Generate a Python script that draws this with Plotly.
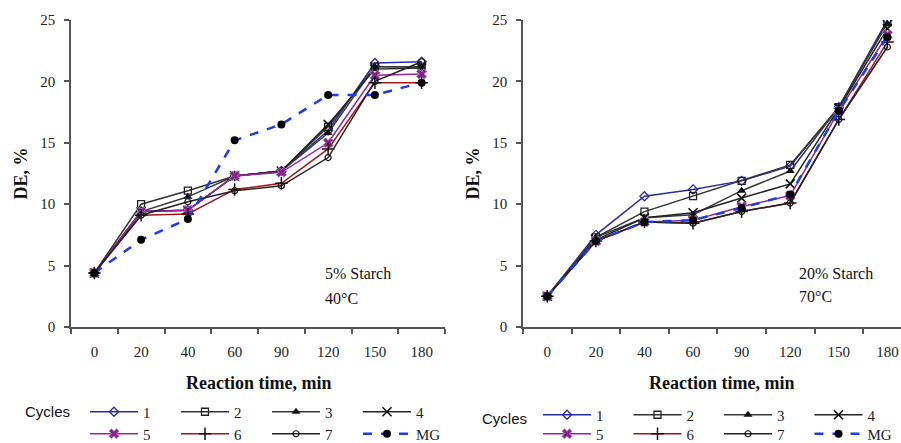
import plotly.graph_objects as go

times = ["0", "20", "40", "60", "90", "120", "150", "180"]
series_names = ["1", "2", "3", "4", "5", "6", "7", "MG"]

# 5% starch, 40 C
left_values = {
    "1": [4.4, 9.4, 9.5, 12.3, 12.7, 16.0, 21.5, 21.6],
    "2": [4.4, 10.0, 11.1, 12.3, 12.7, 16.3, 21.2, 21.2],
    "3": [4.4, 9.4, 10.6, 12.3, 12.7, 15.8, 21.2, 21.2],
    "4": [4.4, 9.4, 9.5, 12.3, 12.7, 16.5, 21.0, 21.1],
    "5": [4.4, 9.4, 9.5, 12.3, 12.6, 15.0, 20.5, 20.6],
    "6": [4.4, 9.1, 9.2, 11.2, 11.7, 14.5, 19.9, 19.9],
    "7": [4.4, 9.1, 10.2, 11.1, 11.5, 13.8, 20.0, 21.6],
    "MG": [4.4, 7.1, 8.8, 15.2, 16.5, 18.9, 18.9, 19.9],
}
# 20% starch, 70 C
right_values = {
    "1": [2.5, 7.5, 10.65, 11.2, 11.9, 13.1, 17.9, 25.0],
    "2": [2.5, 7.3, 9.4, 10.65, 11.9, 13.2, 17.9, 24.8],
    "3": [2.5, 7.3, 8.9, 9.15, 11.1, 12.7, 17.9, 24.7],
    "4": [2.5, 7.1, 8.9, 9.3, 10.5, 11.65, 17.8, 24.3],
    "5": [2.5, 7.0, 8.55, 8.7, 9.8, 10.7, 17.6, 23.8],
    "6": [2.5, 7.0, 8.55, 8.45, 9.4, 10.1, 16.9, 23.2],
    "7": [2.5, 7.0, 8.55, 8.45, 9.4, 10.1, 16.9, 22.8],
    "MG": [2.5, 7.0, 8.55, 8.7, 9.7, 10.8, 17.6, 23.6],
}

styles = {
    "1": dict(line=dict(color="#2b2ba8", width=1.5),
              marker=dict(symbol="diamond-open", size=7, color="#2b2ba8", line=dict(width=1.3))),
    "2": dict(line=dict(color="#333333", width=1.5),
              marker=dict(symbol="square-open", size=7, color="#222222", line=dict(width=1.3))),
    "3": dict(line=dict(color="#3a3a3a", width=1.5),
              marker=dict(symbol="triangle-up", size=8, color="#111111")),
    "4": dict(line=dict(color="#222222", width=1.5),
              marker=dict(symbol="x-thin", size=9, color="#111111", line=dict(width=1.6, color="#111111"))),
    "5": dict(line=dict(color="#9a259a", width=1.5),
              marker=dict(symbol="x", size=9, color="#8e1e8e", line=dict(width=0.8, color="#aaaaaa"))),
    "6": dict(line=dict(color="#a01818", width=1.5),
              marker=dict(symbol="cross-thin", size=9, color="#111111", line=dict(width=1.5, color="#111111"))),
    "7": dict(line=dict(color="#222222", width=1.5),
              marker=dict(symbol="circle-open", size=6, color="#111111", line=dict(width=1.2))),
    "MG": dict(line=dict(color="#1a3cf0", width=2.5, dash="dash"),
               marker=dict(symbol="circle", size=8, color="#000000")),
}

W, H = 901, 443
ML, MR, MT, MB = 71, 0, 20, 116
PW, PH = W - ML - MR, H - MT - MB


def px(x):
    return (x - ML) / PW


def py(y):
    return (H - MB - y) / PH


fig = go.Figure()
for panel, vals in (("left", left_values), ("right", right_values)):
    xa, ya = ("x", "y") if panel == "left" else ("x2", "y2")
    for i, name in enumerate(series_names):
        if panel == "left":
            leg = "legend" if i < 4 else "legend2"
        else:
            leg = "legend3" if i < 4 else "legend4"
        fig.add_trace(go.Scatter(
            x=times, y=vals[name], name=name, mode="lines+markers",
            xaxis=xa, yaxis=ya, legend=leg, **styles[name]))

tickfont = dict(family="Liberation Serif", size=15, color="#222")
axis_common = dict(showline=True, linecolor="#555", linewidth=1.5, ticks="outside",
                   ticklen=5, tickcolor="#555", tickwidth=1.5, showgrid=False,
                   zeroline=False, tickfont=tickfont, automargin=False)
ytitle = dict(text="<b>DE, %</b>", font=dict(family="Liberation Serif", size=18, color="#111"), standoff=8)

fig.update_layout(
    width=W, height=H, margin=dict(l=ML, r=MR, t=MT, b=MB, autoexpand=False),
    paper_bgcolor="white", plot_bgcolor="white", showlegend=True,
    xaxis=dict(domain=[0, px(445)], type="category", range=[-0.5, 7.5],
               tickson="boundaries", ticklabelstandoff=10, anchor="y", **axis_common),
    xaxis2=dict(domain=[px(523), 1], type="category", range=[-0.5, 7.28],
                tickson="boundaries", ticklabelstandoff=10, anchor="y2", **axis_common),
    yaxis=dict(range=[0, 25], dtick=5, anchor="x", ticklabelstandoff=6, title=ytitle, **axis_common),
    yaxis2=dict(range=[0, 25], dtick=5, anchor="x2", ticklabelstandoff=6, title=ytitle, **axis_common),
)

IW = 48
legfont = dict(family="Liberation Serif", size=15, color="#222")
leg_common = dict(orientation="h", font=legfont, bgcolor="rgba(0,0,0,0)", borderwidth=0,
                  itemwidth=IW, xanchor="left", yanchor="middle", itemclick=False,
                  itemdoubleclick=False, tracegroupgap=0)
fig.update_layout(
    legend=dict(x=px(85), y=py(412), entrywidth=91 - IW - 15, **leg_common),
    legend2=dict(x=px(85), y=py(434), entrywidth=91 - IW - 15, **leg_common),
    legend3=dict(x=px(538), y=py(415), entrywidth=90.5 - IW - 15, **leg_common),
    legend4=dict(x=px(538), y=py(434), entrywidth=90.5 - IW - 15, **leg_common),
)

annots = [
    dict(x=px(258), y=py(383), text="<b>Reaction time, min</b>", size=18, fam="Liberation Serif", xa="center"),
    dict(x=px(721), y=py(383), text="<b>Reaction time, min</b>", size=18, fam="Liberation Serif", xa="center"),
    dict(x=px(323), y=py(273), text="5% Starch", size=16, fam="Liberation Serif", xa="left"),
    dict(x=px(323), y=py(298), text="40°C", size=16, fam="Liberation Serif", xa="left"),
    dict(x=px(797), y=py(273), text="20% Starch", size=16, fam="Liberation Serif", xa="left"),
    dict(x=px(797), y=py(296), text="70°C", size=16, fam="Liberation Serif", xa="left"),
    dict(x=px(47), y=py(411), text="Cycles", size=15, fam="Liberation Sans", xa="center"),
    dict(x=px(504), y=py(418), text="Cycles", size=15, fam="Liberation Sans", xa="center"),
]
for a in annots:
    fig.add_annotation(x=a["x"], y=a["y"], xref="paper", yref="paper", text=a["text"],
                       showarrow=False, xanchor=a["xa"], yanchor="middle",
                       font=dict(family=a["fam"], size=a["size"], color="#111"))

fig.write_html("out.html", config={"displayModeBar": False},
               post_script="document.body.style.margin='0';document.body.style.overflow='hidden';")
